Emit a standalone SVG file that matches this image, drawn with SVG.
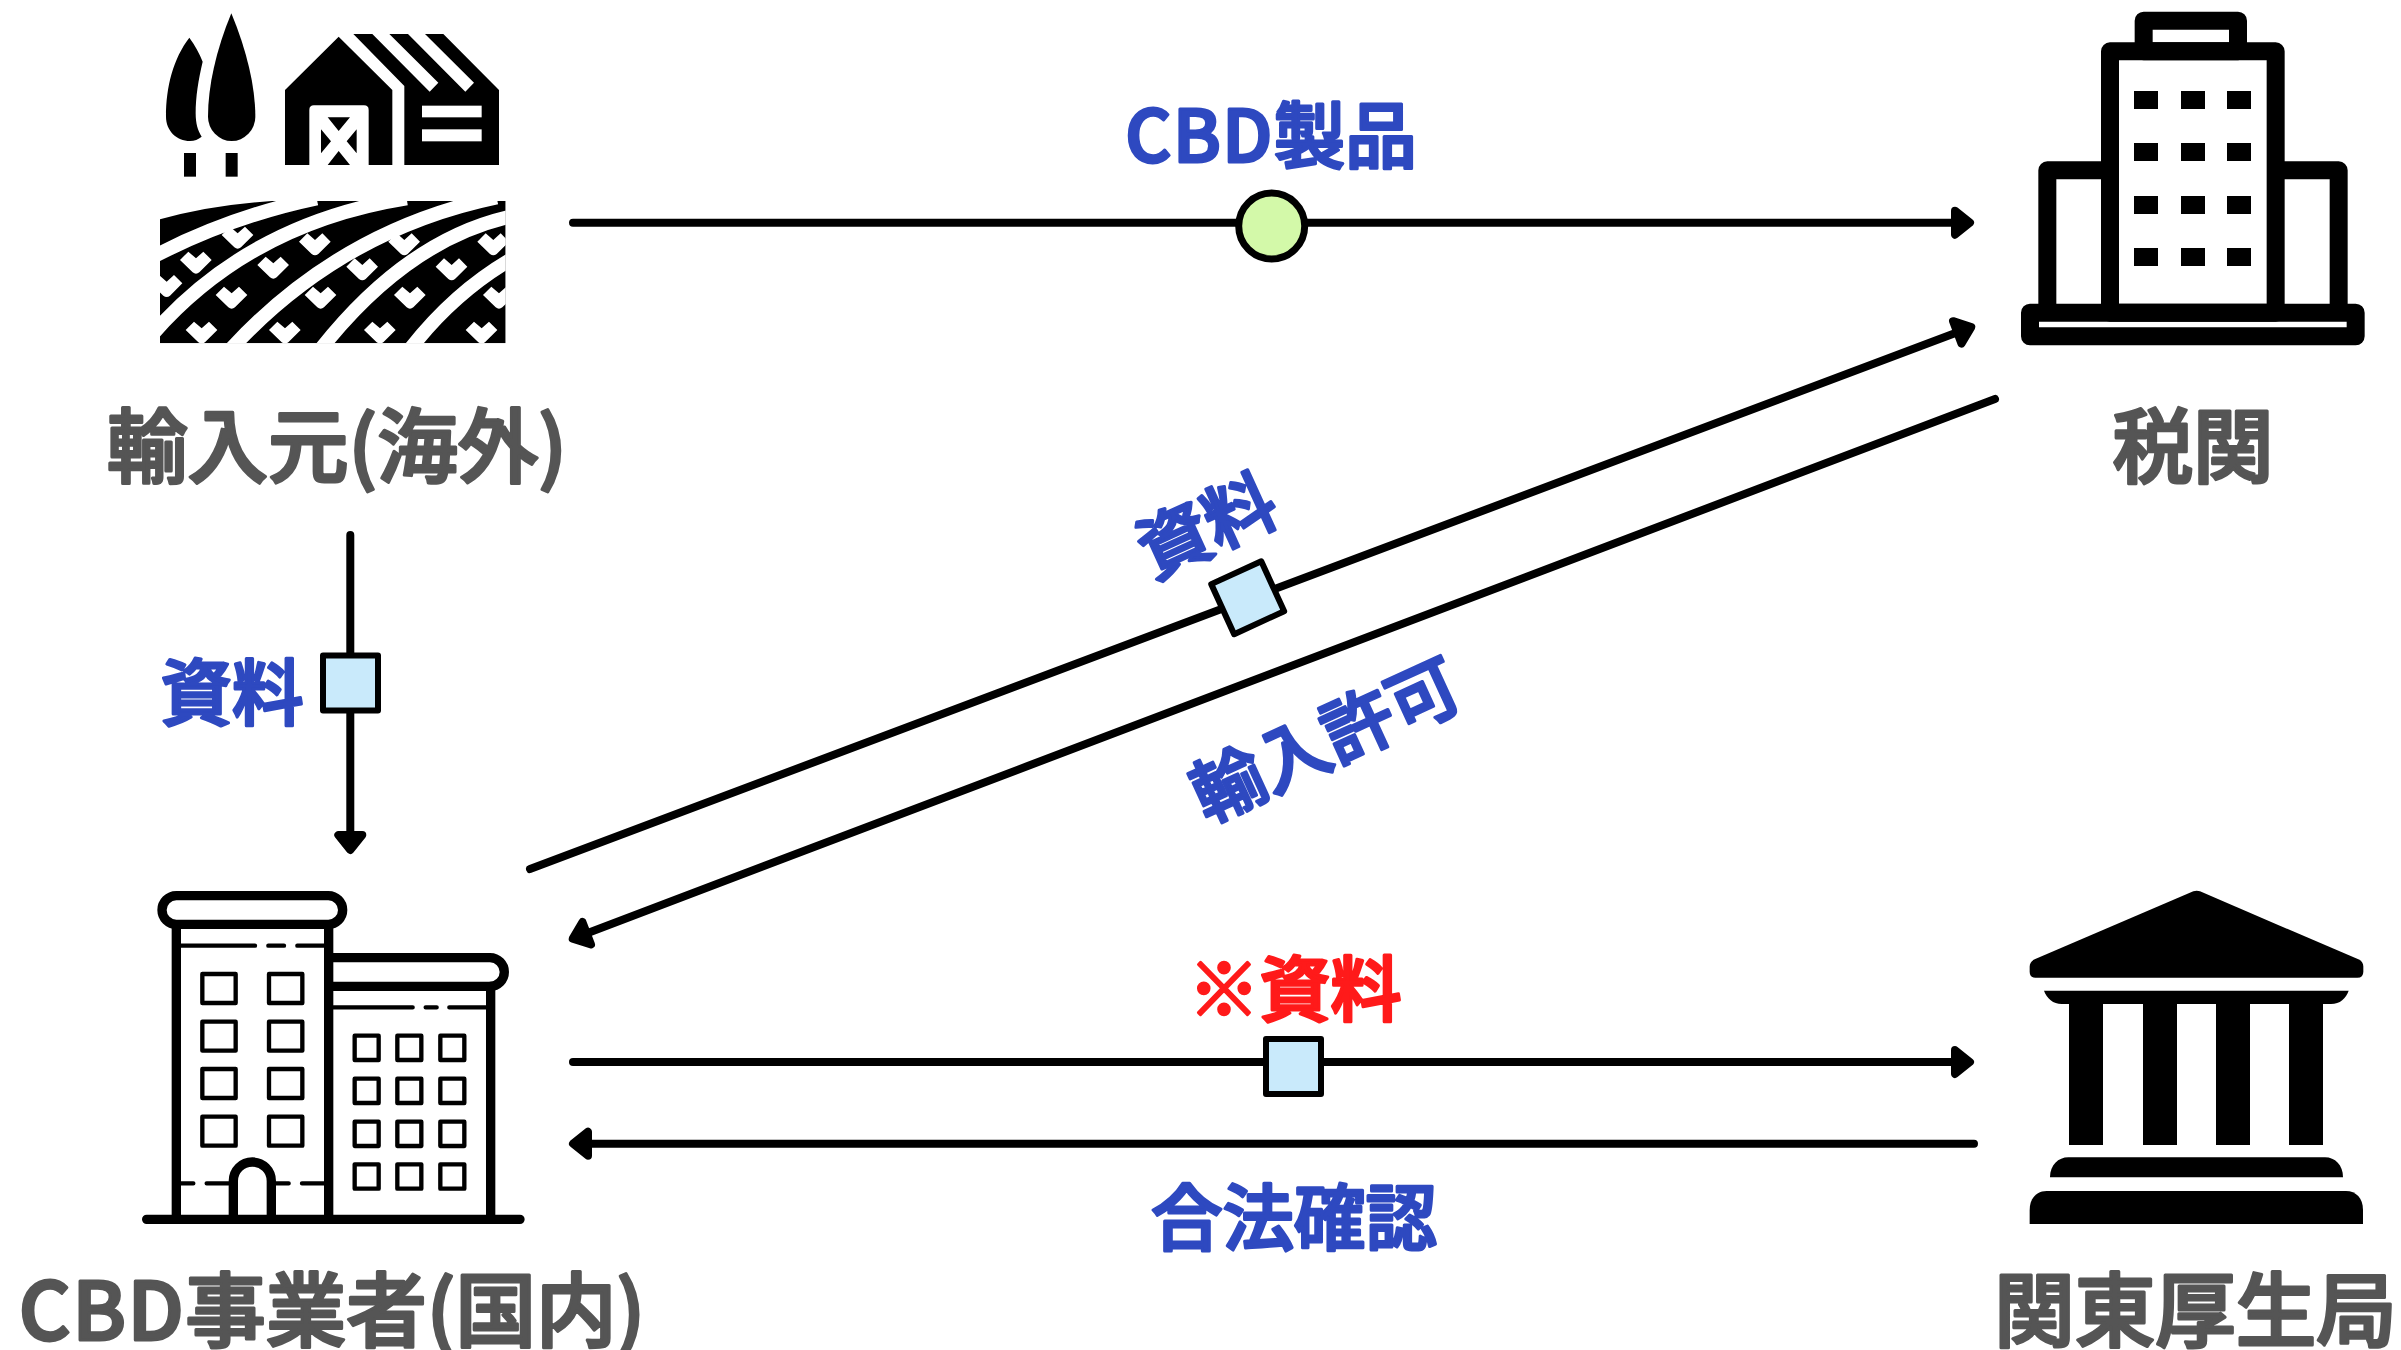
<svg xmlns="http://www.w3.org/2000/svg" width="2401" height="1350" viewBox="0 0 2401 1350">
<style>
text{font-family:"Noto Sans CJK JP","Noto Sans",sans-serif;font-weight:500;text-anchor:middle;stroke-linejoin:round;stroke-linecap:round}
.g{font-size:80.5px;fill:#555;stroke:#555;stroke-width:3}
.b{font-size:71.5px;fill:#2e49c0;stroke:#2e49c0;stroke-width:3}
.r{font-size:71px;fill:#ff1a1a;stroke:#ff1a1a;stroke-width:3}
.l{letter-spacing:1.5px}
.c{fill:none;stroke:#000;stroke-width:8;stroke-linecap:round}
.s{fill:#c9eafb;stroke:#000;stroke-width:6;stroke-linejoin:round}
.o{fill:none;stroke:#000;stroke-linecap:round}
</style>
<defs>
<marker id="a" markerUnits="userSpaceOnUse" markerWidth="40" markerHeight="40" refX="-5" refY="0" viewBox="-30 -20 40 40" orient="auto"><path d="M-18,-12 L-3,0 L-18,12Z" fill="#000" stroke="#000" stroke-width="8" stroke-linejoin="round"/></marker>
<path id="h" d="M-48,-5 L-23,-30 L0,-10 L22,-30 L47,-5 L10,32 Q0,40 -10,32Z" fill="#fff"/>
<clipPath id="f"><rect x="90" y="603" width="1037" height="427"/></clipPath>
</defs>
<rect width="2401" height="1350" fill="#fff"/>
<g id="connectors">
<path class="c" d="M573,222.7H1968" marker-end="url(#a)"/>
<path class="c" d="M350.3,535V848" marker-end="url(#a)"/>
<path class="c" d="M530,869L1969.4,327.8" marker-end="url(#a)"/>
<path class="c" d="M1995,399L574.6,937.9" marker-end="url(#a)"/>
<path class="c" d="M573,1062H1968" marker-end="url(#a)"/>
<path class="c" d="M1974,1143.7H575" marker-end="url(#a)"/>
<circle cx="1271.7" cy="226" r="33" fill="#d3f9a9" stroke="#000" stroke-width="7"/>
<rect class="s" x="323" y="655.5" width="55" height="55"/>
<rect class="s" x="1266" y="1039" width="55" height="55"/>
<rect class="s" x="1220.2" y="570.2" width="55" height="55" transform="rotate(-24.6 1247.7 597.7)"/>
</g>
<g id="labels">
<text class="b" x="1271" y="162"><tspan class="l">CBD</tspan>製品</text>
<text class="b" x="232" y="719">資料</text>
<text class="b" transform="translate(1207,526) rotate(-24.6)" y="26">資料</text>
<text class="b" transform="translate(1326,740) rotate(-24.6)" y="26">輸入許可</text>
<text class="r" x="1295" y="1015">※資料</text>
<text class="b" x="1294" y="1244">合法確認</text>
</g>
<g id="import-source">
<g transform="translate(130,0) scale(.33333)">
<path d="M178,113 C195,135 208,160 218,185 C205,240 197,290 197,340 C197,370 203,392 215,410 C205,418 193,423 180,423 C140,423 108,392 108,350 C108,260 130,175 178,113Z"/>
<path d="M304,40 C350,150 376,260 376,350 A71,73 0 0 1 234,350 C234,260 258,150 304,40Z"/>
<rect x="162" y="459" width="36" height="71"/><rect x="287" y="459" width="36" height="71"/>
<path d="M465,270 L626,110 L787,270 V495 H716 V330 Q716,316 702,316 H552 Q538,316 538,330 V495 H465Z"/>
<path d="M593,352H660L626,393ZM593,495H660L626,453ZM573,388V460L603,424ZM680,388V460L650,424Z"/>
<path d="M727,102 L899,275 L925,248 L778,102 H834 L1006,275 L1032,248 L885,102 H940 L1107,270 V495 H823 V258 L670,102Z"/>
<rect x="876" y="317" width="179" height="35" fill="#fff"/><rect x="876" y="388" width="179" height="36" fill="#fff"/>
<g clip-path="url(#f)">
<path d="M90,658 Q240,615 425,603 H1127 V1030 H90Z"/>
<use href="#h" x="323" y="710"/><use href="#h" x="198" y="785"/><use href="#h" x="110" y="855"/>
<use href="#h" x="555" y="730"/><use href="#h" x="430" y="800"/><use href="#h" x="305" y="890"/><use href="#h" x="215" y="995"/>
<use href="#h" x="823" y="730"/><use href="#h" x="697" y="805"/><use href="#h" x="572" y="890"/><use href="#h" x="465" y="995"/>
<use href="#h" x="1090" y="730"/><use href="#h" x="965" y="805"/><use href="#h" x="840" y="890"/><use href="#h" x="750" y="995"/>
<use href="#h" x="1107" y="890"/><use href="#h" x="1055" y="995"/>
<g fill="none" stroke="#fff" stroke-width="42">
<path d="M70,770 Q300,650 560,595"/>
<path d="M70,1000 Q360,670 830,595"/>
<path d="M300,1050 Q630,690 1100,592"/>
<path d="M570,1050 Q830,720 1140,650"/>
<path d="M838,1050 Q970,880 1140,780"/>
</g>
</g>
</g>
<text class="g" x="337" y="476">輸入元(海外)</text>
</g>
<g id="customs">
<g transform="translate(2000,0) scale(.33333)" fill="none" stroke="#000" stroke-width="54" stroke-linejoin="round">
<rect x="431" y="62" width="283" height="92"/>
<rect x="330" y="154" width="497" height="784"/>
<path d="M330,511H142V938M827,511H1016V938"/>
<rect x="90" y="938" width="977" height="71"/>
<g fill="#000" stroke="none">
<rect x="402" y="273" width="72" height="54"/><rect x="543" y="273" width="72" height="54"/><rect x="681" y="273" width="72" height="54"/>
<rect x="402" y="429" width="72" height="54"/><rect x="543" y="429" width="72" height="54"/><rect x="681" y="429" width="72" height="54"/>
<rect x="402" y="588" width="72" height="54"/><rect x="543" y="588" width="72" height="54"/><rect x="681" y="588" width="72" height="54"/>
<rect x="402" y="744" width="72" height="54"/><rect x="543" y="744" width="72" height="54"/><rect x="681" y="744" width="72" height="54"/>
</g>
</g>
<text class="g" x="2193" y="476">税関</text>
</g>
<g id="cbd-business">
<g transform="translate(130,870) scale(.33333)">
<g class="o" stroke-width="28">
<rect x="96" y="77" width="542" height="86" rx="43"/>
<path d="M596,263H1080A43,43 0 0 1 1080,349H596"/>
<path d="M139,170V1048M596,170V1048M1082,349V1048M50,1048H1170"/>
<path d="M310,1048V933A57,57 0 0 1 424,933V1048"/>
</g>
<g class="o" stroke-width="13">
<path d="M152,227H375M415,227H462M502,227H582M610,412H848M887,412H920M958,412H1068M152,940H190M230,940H296M438,940H476M516,940H582"/>
<g stroke-linejoin="round">
<rect x="217" y="312" width="100" height="87"/><rect x="417" y="312" width="100" height="87"/>
<rect x="217" y="455" width="100" height="87"/><rect x="417" y="455" width="100" height="87"/>
<rect x="217" y="597" width="100" height="87"/><rect x="417" y="597" width="100" height="87"/>
<rect x="217" y="740" width="100" height="87"/><rect x="417" y="740" width="100" height="87"/>
<rect x="674" y="497" width="72" height="73"/><rect x="802" y="497" width="72" height="73"/><rect x="931" y="497" width="72" height="73"/>
<rect x="674" y="626" width="72" height="73"/><rect x="802" y="626" width="72" height="73"/><rect x="931" y="626" width="72" height="73"/>
<rect x="674" y="755" width="72" height="73"/><rect x="802" y="755" width="72" height="73"/><rect x="931" y="755" width="72" height="73"/>
<rect x="674" y="883" width="72" height="73"/><rect x="802" y="883" width="72" height="73"/><rect x="931" y="883" width="72" height="73"/>
</g>
</g>
</g>
<text class="g" x="332" y="1340"><tspan class="l">CBD</tspan>事業者(国内)</text>
</g>
<g id="mhlw-bureau">
<g transform="translate(2000,870) scale(.33333)">
<path d="M580,64 Q590,60 600,64 L1075,268 Q1090,275 1090,290 V305 Q1090,323 1072,323 H106 Q89,323 89,305 V290 Q89,275 104,268Z"/>
<path d="M132,362 H1046 C1038,385 1020,402 993,402 H969 V825 H867 V402 H750 V825 H648 V402 H531 V825 H429 V402 H309 V825 H207 V402 H185 C160,402 140,385 132,362Z"/>
<path d="M150,922 C150,885 175,862 205,862 H975 C1005,862 1029,885 1029,922Z"/>
<path d="M89,1062 V1020 C89,985 110,963 140,963 H1038 C1068,963 1089,985 1089,1020 V1062Z"/>
</g>
<text class="g" x="2195.500" y="1340">関東厚生局</text>
</g>
</svg>
